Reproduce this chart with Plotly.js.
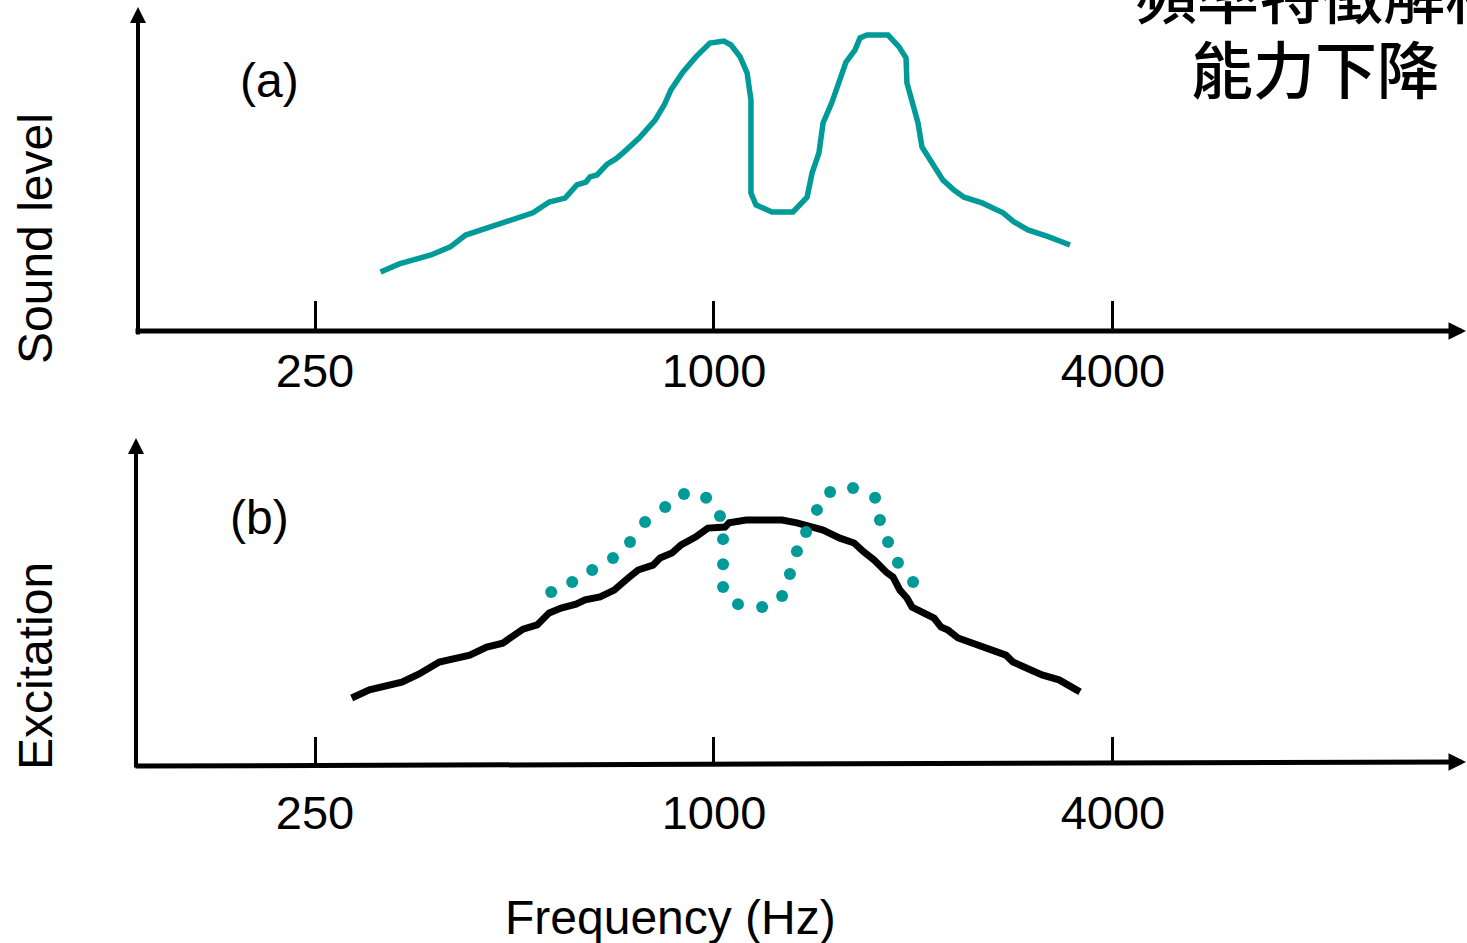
<!DOCTYPE html>
<html>
<head>
<meta charset="utf-8">
<script src="https://cdn.plot.ly/plotly-3.0.1.min.js"></script>
<style>html,body{margin:0;padding:0;background:#fff;}#chart{width:1467px;height:943px;}</style>
</head>
<body>
<div id="chart"></div>
<script>
// ---- Data ----
const tickFreqs = [250, 1000, 4000];
const tickLabels = ['250', '1000', '4000'];

// (a) Sound level spectrum (Hz, arbitrary level units 0-100)
const freqA = [314, 335, 374, 400, 422, 472, 504, 533, 564, 596, 621, 641, 650, 666, 690, 711, 729, 747, 771, 795, 815, 841, 861, 898, 939, 986, 1035, 1061, 1095, 1122, 1137, 1137, 1157, 1223, 1316, 1382, 1406, 1440, 1461, 1507, 1544, 1582, 1632, 1661, 1702, 1831, 1902, 1949, 1955, 1997, 2032, 2060, 2148, 2216, 2302, 2384, 2538, 2730, 2836, 2977, 3202, 3445];
const levelA = [18.4, 20.9, 23.7, 26.2, 29.9, 33.3, 35.5, 36.8, 40.2, 41.4, 45.5, 46.4, 48.0, 48.6, 52.0, 53.6, 55.5, 57.3, 60.1, 63.2, 65.7, 70.4, 75.1, 80.7, 85.4, 89.7, 90.3, 89.1, 85.4, 80.4, 72.0, 43.0, 39.3, 37.1, 37.1, 41.7, 49.2, 55.5, 64.8, 71.3, 78.2, 83.8, 87.5, 91.3, 92.2, 92.2, 88.5, 85.0, 77.3, 69.8, 64.8, 57.3, 51.1, 47.0, 43.9, 41.7, 39.9, 36.8, 34.0, 31.5, 29.3, 26.8];

// (b) Excitation pattern, impaired (solid black)
const freqB = [284, 302, 338, 359, 385, 428, 454, 480, 515, 541, 564, 588, 619, 639, 673, 707, 742, 768, 809, 829, 864, 892, 939, 979, 1039, 1054, 1118, 1267, 1334, 1416, 1461, 1549, 1627, 1684, 1744, 1818, 1863, 1908, 1955, 1990, 2060, 2148, 2200, 2255, 2335, 2512, 2758, 2826, 2977, 3126, 3316, 3567];
const excitationB = [20.6, 23.1, 25.5, 28.0, 31.7, 33.8, 36.3, 37.5, 41.8, 43.1, 46.8, 48.3, 49.5, 50.8, 51.7, 53.8, 57.5, 60.0, 61.5, 63.7, 65.2, 67.7, 70.2, 72.9, 73.2, 74.5, 75.4, 75.4, 74.5, 73.2, 72.3, 69.8, 68.3, 65.5, 63.1, 59.4, 57.8, 53.8, 51.4, 48.6, 46.8, 45.2, 42.5, 41.5, 39.1, 36.9, 33.8, 31.7, 29.8, 27.7, 26.2, 22.5];

// (b) Excitation pattern, normal (teal dotted)
const freqNormal = [568, 611, 655, 704, 747, 787, 844, 901, 973, 1021, 1032, 1032, 1032, 1087, 1182, 1267, 1302, 1334, 1377, 1430, 1497, 1621, 1750, 1780, 1831, 1895, 1997];
const excitationNormal = [53.2, 56.3, 60.0, 63.7, 68.6, 74.8, 79.4, 83.4, 82.2, 76.6, 69.5, 61.8, 54.8, 49.5, 48.6, 52.0, 58.8, 65.8, 71.7, 78.5, 84.0, 85.2, 82.2, 75.4, 68.6, 62.2, 56.3];

const labelA = '(a)';
const labelB = '(b)';
const yTitleA = 'Sound level';
const yTitleB = 'Excitation';
const xTitle = 'Frequency (Hz)';
const noteLines = ['頻率特徵解析', '能力下降'];

// ---- Styling ----
const TEAL = '#009a98';
const FONT = 'Liberation Sans, Arial, sans-serif';
const CJK = 'Noto Sans CJK TC, Noto Sans CJK SC, sans-serif';
const W = 1467, H = 943, ML = 138, MR = 2;
const PW = W - ML - MR;
const px2x = p => (p - ML) / PW;
const py2y = p => 1 - p / H;

const traces = [
  {x: freqA, y: levelA, xaxis: 'x', yaxis: 'y', mode: 'lines',
   line: {color: TEAL, width: 5.5}, hoverinfo: 'skip'},
  {x: freqB, y: excitationB, xaxis: 'x2', yaxis: 'y2', mode: 'lines',
   line: {color: '#000', width: 7}, hoverinfo: 'skip'},
  {x: freqNormal, y: excitationNormal, xaxis: 'x2', yaxis: 'y2', mode: 'markers',
   marker: {color: TEAL, size: 12, line: {width: 0}}, hoverinfo: 'skip'}
];

const xRange = [2.13085, 4.13326];
function xax(anchor, standoff, len) {
  return {
    type: 'log', range: xRange, domain: [0, 1], anchor: anchor,
    showgrid: false, zeroline: false, showline: false,
    ticks: 'inside', ticklen: len, tickwidth: 3, tickcolor: '#000',
    tickvals: tickFreqs, ticktext: tickLabels,
    tickfont: {family: FONT, size: 47, color: '#000'},
    ticklabelstandoff: standoff, fixedrange: true
  };
}
function yax(domain, anchor) {
  return {
    domain: domain, range: [0, 100], anchor: anchor,
    showgrid: false, zeroline: false, showline: false,
    showticklabels: false, ticks: '', fixedrange: true
  };
}

function arrow(tipX, tipY, ax, ay, width, size) {
  return {xref: 'paper', yref: 'paper', x: px2x(tipX), y: py2y(tipY),
          ax: ax, ay: ay, axref: 'pixel', ayref: 'pixel', text: '',
          showarrow: true, arrowhead: 2, arrowsize: size, arrowwidth: width,
          arrowcolor: '#000', standoff: 0, startstandoff: 0};
}
function label(text, cx, cy, size, extra) {
  return Object.assign({xref: 'paper', yref: 'paper', x: px2x(cx), y: py2y(cy),
          xanchor: 'center', yanchor: 'middle', showarrow: false, text: text,
          font: {family: FONT, size: size, color: '#000'}}, extra || {});
}
const cjkFont = {family: CJK, size: 62, color: '#000', weight: 500};

const layout = {
  width: W, height: H,
  margin: {l: ML, r: MR, t: 0, b: 0},
  paper_bgcolor: '#fff', plot_bgcolor: 'rgba(0,0,0,0)',
  showlegend: false,
  xaxis: xax('y', 8, 30),
  yaxis: yax([py2y(331), py2y(10)], 'x'),
  xaxis2: xax('y2', 16, 28),
  yaxis2: yax([py2y(765), py2y(440)], 'x2'),
  annotations: [
    arrow(138, 7, 0, 329, 4, 0.8),
    arrow(1466, 331, -1332, 0, 5, 0.7),
    arrow(136, 438, 0, 331, 4, 0.8),
    arrow(1466, 762, -1332, 4, 5, 0.7),
    label(labelA, 269, 80, 48),
    label(labelB, 259, 517, 48),
    label(yTitleA, 35, 238, 48, {textangle: -90}),
    label(yTitleB, 35, 666, 48, {textangle: -90}),
    label(xTitle, 670, 917, 48),
    label(noteLines[0], 1321, -8, 62, {font: cjkFont}),
    label(noteLines[1], 1315, 67, 62, {font: cjkFont})
  ]
};

Plotly.newPlot('chart', traces, layout, {displayModeBar: false, staticPlot: true});
</script>
</body>
</html>
